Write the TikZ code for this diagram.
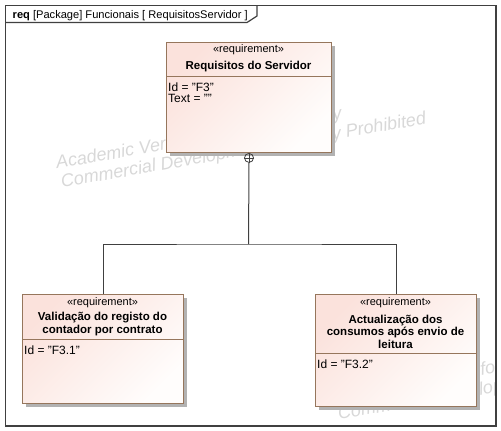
\documentclass[tikz,border=0pt]{standalone}
\usepackage{fontspec}
\setmainfont{Liberation Sans}
\usetikzlibrary{shadows}

\definecolor{reqedge}{RGB}{150,118,92}
\definecolor{reqpink}{RGB}{251,226,220}
\definecolor{reqwhite}{RGB}{255,253,252}
\definecolor{wmgray}{RGB}{216,216,216}
\definecolor{linegray}{RGB}{64,64,64}

\tikzset{
  reqbox/.style={draw=reqedge, line width=1pt, top color=reqpink, bottom color=reqwhite, shading angle=45,
    drop shadow={shadow xshift=3pt, shadow yshift=-3pt, fill=black!30, opacity=1},
    anchor=north west, inner sep=0pt},
  reqsep/.style={draw=reqedge, line width=1pt},
  stereo/.style={font=\fontsize{11}{13}\selectfont, inner sep=0pt},
  reqname/.style={font=\fontsize{11.5}{12.5}\selectfont\bfseries, align=center, inner sep=0pt},
  attr/.style={font=\fontsize{12}{12}\selectfont, anchor=base west, inner sep=0pt},
  conn/.style={draw=linegray, line width=1pt},
  frame/.style={draw=linegray, line width=1.2pt},
  watermark/.style={text=wmgray, font=\fontsize{18}{20}\selectfont\itshape, rotate=10, anchor=base west, inner sep=0pt},
}

\begin{document}
\begin{tikzpicture}[x=1pt, y=-1pt]
\useasboundingbox (0,0) rectangle (501,431);

% watermark
\begin{scope}
\clip (6,6) rectangle (495.5,418);
\node[watermark] (wm1) at (57,169) {Academic Version for Teaching Only};
\node[watermark] (wm2) at (62,188) {Commercial Development is Strictly Prohibited};
\node[watermark] (wm3) at (334,401) {Academic Version for Teaching Only};
\node[watermark] (wm4) at (339,420) {Commercial Development is Strictly Prohibited};
\end{scope}

% frame
\draw[frame] (5.5,5.5) rectangle (496,426);
\draw[frame] (5.5,22.5) -- (247,22.5) -- (257,16) -- (257,5.5);
\node[anchor=base west, inner sep=0pt, font=\fontsize{11.1}{12}\selectfont] (title) at (12.5,18)
  {\textbf{req} [Package] Funcionais [ RequisitosServidor ]};

% requirements
\node[reqbox, minimum width=165pt, minimum height=110pt] (topreq) at (166,42) {};
\draw[reqsep] ([yshift=-34pt]topreq.north west) -- ([yshift=-34pt]topreq.north east);
\node[stereo] (topst) at (248.5,50) {«requirement»};
\node[reqname] (topname) at (248.5,67) {Requisitos do Servidor};
\node[attr] (topid) at (168,91) {Id = "F3"};
\node[attr] (toptext) at (168,102) {Text = ""};

\node[reqbox, minimum width=161pt, minimum height=109pt] (leftreq) at (22,294) {};
\draw[reqsep] ([yshift=-45pt]leftreq.north west) -- ([yshift=-45pt]leftreq.north east);
\node[stereo] (leftst) at (102.5,303) {«requirement»};
\node[reqname] (leftname) at (102.5,324) {Validação do registo do\\contador por contrato};
\node[attr] (leftid) at (24,354) {Id = "F3.1"};

\node[reqbox, minimum width=161pt, minimum height=112pt] (rightreq) at (315,294) {};
\draw[reqsep] ([yshift=-59pt]rightreq.north west) -- ([yshift=-59pt]rightreq.north east);
\node[stereo] (rightst) at (395.5,303) {«requirement»};
\node[reqname] (rightname) at (395.5,331.5) {Actualização dos\\consumos após envio de\\leitura};
\node[attr] (rightid) at (317,368) {Id = "F3.2"};

% containment
\node[circle, draw=linegray, line width=0.8pt, minimum size=9pt, inner sep=0pt, anchor=north] (contain) at (topreq.south) {};
\draw[draw=linegray, line width=0.8pt] (contain.north) -- (contain.south) (contain.west) -- (contain.east);
\coordinate (hub) at (248.5,244);
\draw[conn] (contain.south) -- (hub);
\draw[conn] (leftreq.north) |- (hub) -| (rightreq.north);
\end{tikzpicture}
\end{document}
